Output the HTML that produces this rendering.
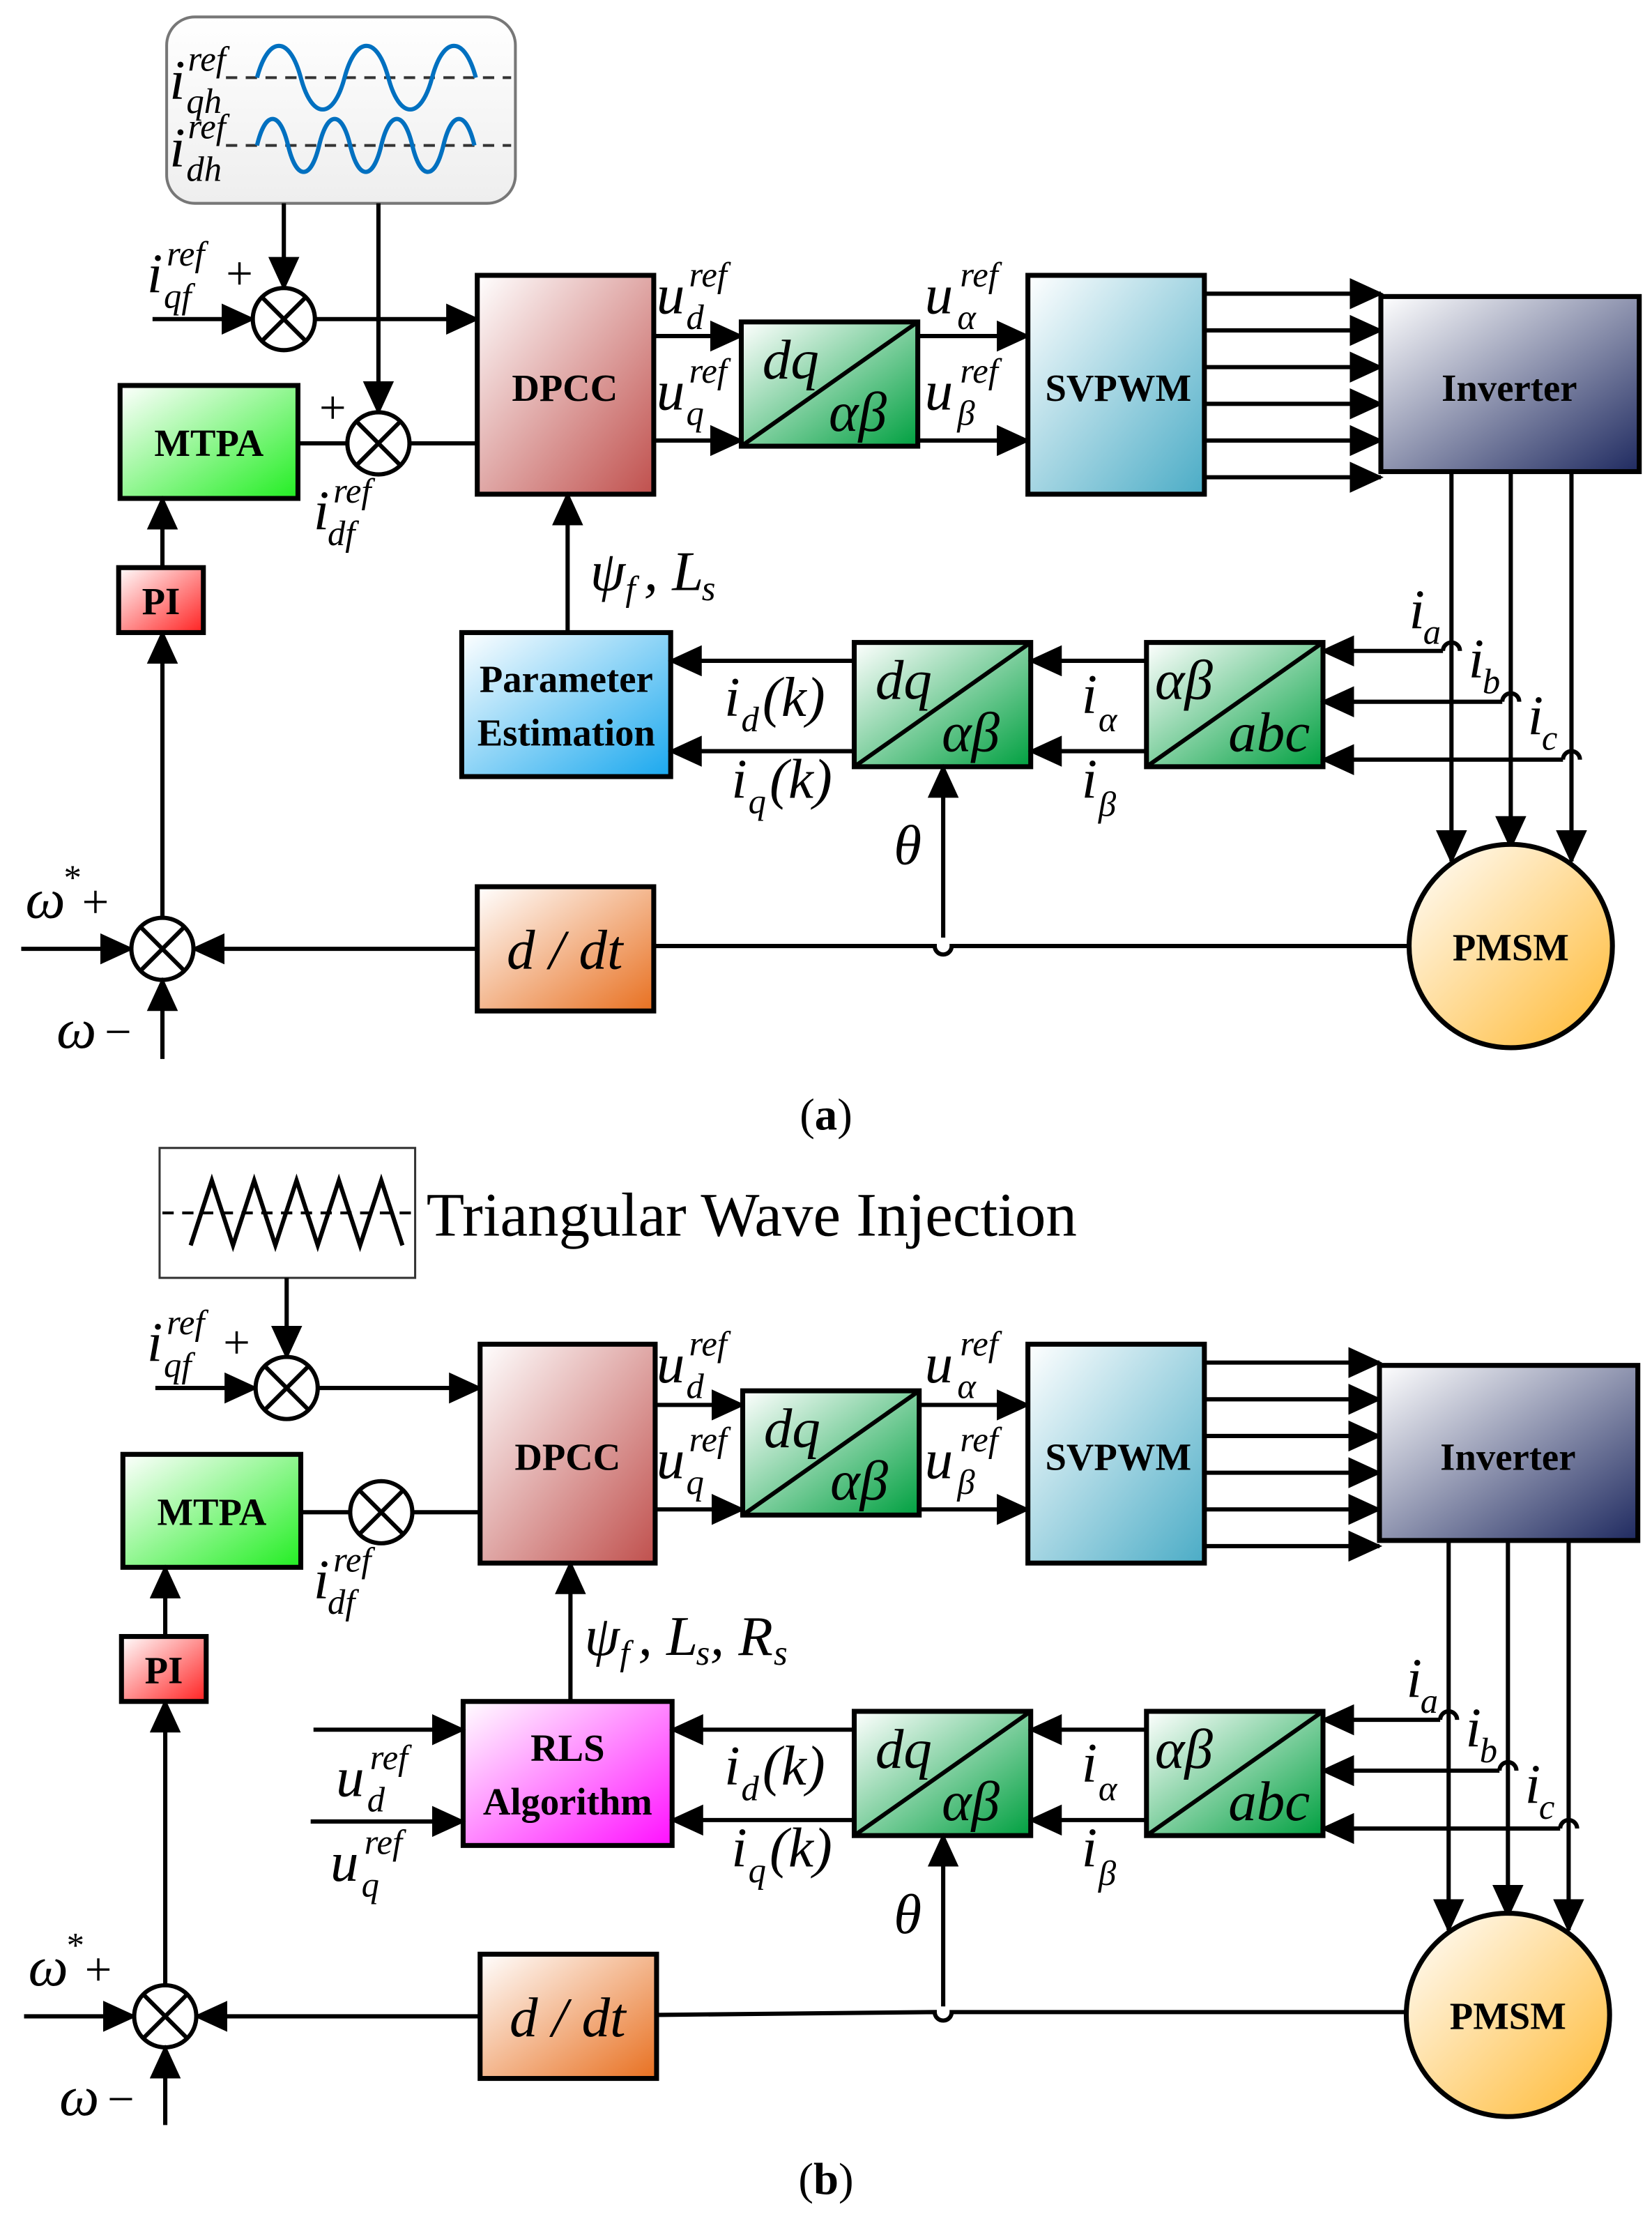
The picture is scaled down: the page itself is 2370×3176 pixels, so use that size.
<!DOCTYPE html>
<html><head><meta charset="utf-8">
<style>
html,body{margin:0;padding:0;background:#fff;}
svg{display:block;}
text{font-family:"Liberation Serif",serif;fill:#000;}
.m{font-style:italic;font-size:40px;}
.s{font-style:italic;font-size:25px;}
.b{font-weight:bold;font-size:27px;}
.box{stroke:#000;stroke-width:3.5;}
.ln{stroke:#000;stroke-width:3;fill:none;}
</style></head><body>
<svg width="2370" height="3176" viewBox="0 0 1170 1568" xmlns="http://www.w3.org/2000/svg">
<defs>
<marker id="ar" markerUnits="userSpaceOnUse" markerWidth="24" markerHeight="22" refX="22" refY="11" orient="auto"><path d="M0,0 L24,11 L0,22 Z" fill="#000"/></marker>
<linearGradient id="gR" x1="0" y1="0" x2="1" y2="1"><stop offset="0" stop-color="#fff"/><stop offset="1" stop-color="#c0504d"/></linearGradient>
<linearGradient id="gG" x1="0" y1="0" x2="1" y2="1"><stop offset="0" stop-color="#fff"/><stop offset="1" stop-color="#22ee22"/></linearGradient>
<linearGradient id="gD" x1="0" y1="0" x2="1" y2="1"><stop offset="0" stop-color="#fff"/><stop offset="1" stop-color="#00a040"/></linearGradient>
<linearGradient id="gB" x1="0" y1="0" x2="1" y2="1"><stop offset="0" stop-color="#fff"/><stop offset="1" stop-color="#4bacc6"/></linearGradient>
<linearGradient id="gB2" x1="0" y1="0" x2="1" y2="1"><stop offset="0" stop-color="#fff"/><stop offset="1" stop-color="#1aa8ee"/></linearGradient>
<linearGradient id="gN" x1="0" y1="0" x2="1" y2="1"><stop offset="0" stop-color="#fff"/><stop offset="1" stop-color="#1f2a60"/></linearGradient>
<linearGradient id="gP" x1="0" y1="0" x2="1" y2="1"><stop offset="0" stop-color="#fff"/><stop offset="1" stop-color="#ff2020"/></linearGradient>
<linearGradient id="gO" x1="0" y1="0" x2="1" y2="1"><stop offset="0" stop-color="#fff"/><stop offset="1" stop-color="#e87020"/></linearGradient>
<linearGradient id="gY" x1="0" y1="0" x2="1" y2="1"><stop offset="0" stop-color="#fff"/><stop offset="1" stop-color="#ffb830"/></linearGradient>
<linearGradient id="gM" x1="0" y1="0" x2="1" y2="1"><stop offset="0" stop-color="#fff"/><stop offset="1" stop-color="#ff10ff"/></linearGradient>
<linearGradient id="gW" x1="0" y1="0" x2="0" y2="1"><stop offset="0" stop-color="#fff"/><stop offset="1" stop-color="#eee"/></linearGradient>
</defs>

<!-- ============ PANEL (a) ============ -->
<rect x="118" y="12" width="247" height="132" rx="20" fill="url(#gW)" stroke="#777" stroke-width="2"/>
<line x1="160" y1="55" x2="362" y2="55" stroke="#333" stroke-width="2" stroke-dasharray="8,6"/>
<line x1="160" y1="103" x2="362" y2="103" stroke="#333" stroke-width="2" stroke-dasharray="8,6"/>
<path d="M182,55 C190,25 205,25 213,55 S236,85 244,55 S267,25 275,55 S298,85 306,55 S329,25 337,55" stroke="#0070c0" stroke-width="3" fill="none"/>
<path d="M182,103 C188,78 198,78 204,103 S220,128 226,103 S242,78 248,103 S264,128 270,103 S286,78 292,103 S308,128 314,103 S330,78 336,103" stroke="#0070c0" stroke-width="3" fill="none"/>
<text class="m" x="120" y="70">i</text><text class="s" x="133" y="50">ref</text><text class="s" x="132" y="80">qh</text>
<text class="m" x="120" y="118">i</text><text class="s" x="133" y="98">ref</text><text class="s" x="132" y="128">dh</text>

<line class="ln" x1="201" y1="144" x2="201" y2="204" marker-end="url(#ar)"/>
<line class="ln" x1="268" y1="144" x2="268" y2="292" marker-end="url(#ar)"/>
<line class="ln" x1="108" y1="226" x2="179" y2="226" marker-end="url(#ar)"/>
<circle cx="201" cy="226" r="22" fill="#fff" stroke="#000" stroke-width="3"/>
<path d="M185,210 L217,242 M217,210 L185,242" class="ln"/>
<text class="m" x="104" y="207">i</text><text class="s" x="118" y="188">ref</text><text class="s" x="116" y="218">qf</text>
<text x="160" y="205" font-size="34">+</text>
<line class="ln" x1="223" y1="226" x2="338" y2="226" marker-end="url(#ar)"/>

<rect class="box" x="85" y="273" width="126" height="80" fill="url(#gG)"/>
<text class="b" x="148" y="323" text-anchor="middle">MTPA</text>
<line class="ln" x1="211" y1="314" x2="246" y2="314"/>
<circle cx="268" cy="314" r="22" fill="#fff" stroke="#000" stroke-width="3"/>
<path d="M252,298 L284,330 M284,298 L252,330" class="ln"/>
<text x="226" y="300" font-size="34">+</text>
<line class="ln" x1="290" y1="314" x2="338" y2="314"/>
<text class="m" x="222" y="375">i</text><text class="s" x="236" y="356">ref</text><text class="s" x="232" y="386">df</text>

<rect class="box" x="338" y="195" width="125" height="155" fill="url(#gR)"/>
<text class="b" x="400" y="284" text-anchor="middle">DPCC</text>
<line class="ln" x1="463" y1="238" x2="525" y2="238" marker-end="url(#ar)"/>
<line class="ln" x1="463" y1="312" x2="525" y2="312" marker-end="url(#ar)"/>
<text class="m" x="465" y="222">u</text><text class="s" x="488" y="203">ref</text><text class="s" x="486" y="233">d</text>
<text class="m" x="465" y="290">u</text><text class="s" x="488" y="271">ref</text><text class="s" x="486" y="301">q</text>

<rect class="box" x="525" y="228" width="125" height="88" fill="url(#gD)"/>
<line class="ln" x1="525" y1="316" x2="650" y2="228"/>
<text class="m" x="540" y="268">dq</text><text class="m" x="587" y="305">αβ</text>
<line class="ln" x1="650" y1="238" x2="728" y2="238" marker-end="url(#ar)"/>
<line class="ln" x1="650" y1="312" x2="728" y2="312" marker-end="url(#ar)"/>
<text class="m" x="655" y="222">u</text><text class="s" x="680" y="203">ref</text><text class="s" x="678" y="233">α</text>
<text class="m" x="655" y="290">u</text><text class="s" x="680" y="271">ref</text><text class="s" x="678" y="301">β</text>

<rect class="box" x="728" y="195" width="125" height="155" fill="url(#gB)"/>
<text class="b" x="792" y="284" text-anchor="middle">SVPWM</text>
<line class="ln" x1="853" y1="208" x2="978" y2="208" marker-end="url(#ar)"/>
<line class="ln" x1="853" y1="234" x2="978" y2="234" marker-end="url(#ar)"/>
<line class="ln" x1="853" y1="260" x2="978" y2="260" marker-end="url(#ar)"/>
<line class="ln" x1="853" y1="286" x2="978" y2="286" marker-end="url(#ar)"/>
<line class="ln" x1="853" y1="312" x2="978" y2="312" marker-end="url(#ar)"/>
<line class="ln" x1="853" y1="338" x2="978" y2="338" marker-end="url(#ar)"/>
<rect class="box" x="978" y="210" width="183" height="124" fill="url(#gN)"/>
<text class="b" x="1069" y="284" text-anchor="middle">Inverter</text>

<line class="ln" x1="1028" y1="334" x2="1028" y2="610" marker-end="url(#ar)"/>
<line class="ln" x1="1070" y1="334" x2="1070" y2="600" marker-end="url(#ar)"/>
<line class="ln" x1="1113" y1="334" x2="1113" y2="610" marker-end="url(#ar)"/>
<ellipse cx="1070" cy="670" rx="72" ry="72" fill="url(#gY)" stroke="#000" stroke-width="3.5"/>
<text class="b" x="1070" y="680" text-anchor="middle">PMSM</text>

<rect class="box" x="812" y="455" width="125" height="88" fill="url(#gD)"/>
<line class="ln" x1="812" y1="543" x2="937" y2="455"/>
<text class="m" x="818" y="495">αβ</text><text class="m" x="870" y="532">abc</text>
<path class="ln" d="M1022,461 a6,6 0 0 1 12,0" />
<line class="ln" x1="1022" y1="461" x2="937" y2="461" marker-end="url(#ar)"/>
<path class="ln" d="M1064,497 a6,6 0 0 1 12,0"/>
<line class="ln" x1="1064" y1="497" x2="937" y2="497" marker-end="url(#ar)"/>
<path class="ln" d="M1107,538 a6,6 0 0 1 12,0"/>
<line class="ln" x1="1107" y1="538" x2="937" y2="538" marker-end="url(#ar)"/>
<text class="m" x="998" y="445">i</text><text class="s" x="1008" y="456">a</text>
<text class="m" x="1040" y="480">i</text><text class="s" x="1050" y="491">b</text>
<text class="m" x="1082" y="520">i</text><text class="s" x="1092" y="531">c</text>

<rect class="box" x="605" y="455" width="125" height="88" fill="url(#gD)"/>
<line class="ln" x1="605" y1="543" x2="730" y2="455"/>
<text class="m" x="620" y="495">dq</text><text class="m" x="667" y="532">αβ</text>
<line class="ln" x1="812" y1="468" x2="730" y2="468" marker-end="url(#ar)"/>
<line class="ln" x1="812" y1="532" x2="730" y2="532" marker-end="url(#ar)"/>
<text class="m" x="766" y="505">i</text><text class="s" x="778" y="518">α</text>
<text class="m" x="766" y="565">i</text><text class="s" x="778" y="578">β</text>

<rect class="box" x="327" y="448" width="148" height="102" fill="url(#gB2)"/>
<text class="b" x="401" y="490" text-anchor="middle">Parameter</text>
<text class="b" x="401" y="528" text-anchor="middle">Estimation</text>
<line class="ln" x1="605" y1="468" x2="475" y2="468" marker-end="url(#ar)"/>
<line class="ln" x1="605" y1="532" x2="475" y2="532" marker-end="url(#ar)"/>
<text class="m" x="513" y="507">i</text><text class="s" x="525" y="518">d</text><text class="m" x="540" y="507">(k)</text>
<text class="m" x="518" y="565">i</text><text class="s" x="530" y="576">q</text><text class="m" x="545" y="565">(k)</text>
<line class="ln" x1="402" y1="448" x2="402" y2="350" marker-end="url(#ar)"/>
<text class="m" x="418" y="418">ψ</text><text class="s" x="443" y="425">f</text><text class="m" x="456" y="418">, L</text><text class="s" x="497" y="425">s</text>

<line class="ln" x1="668" y1="664" x2="668" y2="543" marker-end="url(#ar)"/>
<text class="m" x="633" y="612">θ</text>
<path class="ln" d="M998,670 L674,670 a6,6 0 0 1 -12,0 L463,670"/>
<rect class="box" x="338" y="628" width="125" height="88" fill="url(#gO)"/>
<text class="m" x="400" y="686" text-anchor="middle">d / dt</text>
<line class="ln" x1="338" y1="672" x2="137" y2="672" marker-end="url(#ar)"/>
<line class="ln" x1="15" y1="672" x2="93" y2="672" marker-end="url(#ar)"/>
<circle cx="115" cy="672" r="22" fill="#fff" stroke="#000" stroke-width="3"/>
<path d="M99,656 L131,688 M131,656 L99,688" class="ln"/>
<line class="ln" x1="115" y1="750" x2="115" y2="694" marker-end="url(#ar)"/>
<text class="m" x="18" y="650">ω</text><text class="s" x="44" y="630">*</text><text x="58" y="650" font-size="34">+</text>
<text class="m" x="40" y="742">ω</text><text x="74" y="742" font-size="34">−</text>
<line class="ln" x1="115" y1="650" x2="115" y2="448" marker-end="url(#ar)"/>
<rect class="box" x="84" y="402" width="60" height="46" fill="url(#gP)"/>
<text class="b" x="114" y="435" text-anchor="middle">PI</text>
<line class="ln" x1="115" y1="402" x2="115" y2="353" marker-end="url(#ar)"/>
<text x="585" y="800" font-size="32" text-anchor="middle">(<tspan font-weight="bold">a</tspan>)</text>

<!-- ============ PANEL (b) ============ -->
<rect x="113" y="813" width="181" height="92" fill="#fff" stroke="#333" stroke-width="1.5"/>
<line x1="115" y1="859" x2="292" y2="859" stroke="#000" stroke-width="2" stroke-dasharray="8,6"/>
<path d="M135,882 L150,836 L165,882 L180,836 L195,882 L210,836 L225,882 L240,836 L255,882 L270,836 L285,882" stroke="#000" stroke-width="3" fill="none"/>
<text x="302" y="875" font-size="44">Triangular Wave Injection</text>

<line class="ln" x1="203" y1="905" x2="203" y2="961" marker-end="url(#ar)"/>
<line class="ln" x1="110" y1="983" x2="181" y2="983" marker-end="url(#ar)"/>
<circle cx="203" cy="983" r="22" fill="#fff" stroke="#000" stroke-width="3"/>
<path d="M187,967 L219,999 M219,967 L187,999" class="ln"/>
<text class="m" x="104" y="964">i</text><text class="s" x="118" y="945">ref</text><text class="s" x="116" y="975">qf</text>
<text x="158" y="962" font-size="34">+</text>
<line class="ln" x1="225" y1="983" x2="340" y2="983" marker-end="url(#ar)"/>

<rect class="box" x="87" y="1030" width="126" height="80" fill="url(#gG)"/>
<text class="b" x="150" y="1080" text-anchor="middle">MTPA</text>
<line class="ln" x1="213" y1="1071" x2="248" y2="1071"/>
<circle cx="270" cy="1071" r="22" fill="#fff" stroke="#000" stroke-width="3"/>
<path d="M254,1055 L286,1087 M286,1055 L254,1087" class="ln"/>
<line class="ln" x1="292" y1="1071" x2="340" y2="1071"/>
<text class="m" x="222" y="1132">i</text><text class="s" x="236" y="1113">ref</text><text class="s" x="232" y="1143">df</text>

<rect class="box" x="340" y="952" width="124" height="155" fill="url(#gR)"/>
<text class="b" x="402" y="1041" text-anchor="middle">DPCC</text>
<line class="ln" x1="464" y1="995" x2="526" y2="995" marker-end="url(#ar)"/>
<line class="ln" x1="464" y1="1069" x2="526" y2="1069" marker-end="url(#ar)"/>
<text class="m" x="465" y="979">u</text><text class="s" x="488" y="960">ref</text><text class="s" x="486" y="990">d</text>
<text class="m" x="465" y="1047">u</text><text class="s" x="488" y="1028">ref</text><text class="s" x="486" y="1058">q</text>

<rect class="box" x="526" y="985" width="125" height="88" fill="url(#gD)"/>
<line class="ln" x1="526" y1="1073" x2="651" y2="985"/>
<text class="m" x="541" y="1025">dq</text><text class="m" x="588" y="1062">αβ</text>
<line class="ln" x1="651" y1="995" x2="728" y2="995" marker-end="url(#ar)"/>
<line class="ln" x1="651" y1="1069" x2="728" y2="1069" marker-end="url(#ar)"/>
<text class="m" x="655" y="979">u</text><text class="s" x="680" y="960">ref</text><text class="s" x="678" y="990">α</text>
<text class="m" x="655" y="1047">u</text><text class="s" x="680" y="1028">ref</text><text class="s" x="678" y="1058">β</text>

<rect class="box" x="728" y="952" width="125" height="155" fill="url(#gB)"/>
<text class="b" x="792" y="1041" text-anchor="middle">SVPWM</text>
<line class="ln" x1="853" y1="965" x2="977" y2="965" marker-end="url(#ar)"/>
<line class="ln" x1="853" y1="991" x2="977" y2="991" marker-end="url(#ar)"/>
<line class="ln" x1="853" y1="1017" x2="977" y2="1017" marker-end="url(#ar)"/>
<line class="ln" x1="853" y1="1043" x2="977" y2="1043" marker-end="url(#ar)"/>
<line class="ln" x1="853" y1="1069" x2="977" y2="1069" marker-end="url(#ar)"/>
<line class="ln" x1="853" y1="1095" x2="977" y2="1095" marker-end="url(#ar)"/>
<rect class="box" x="977" y="967" width="183" height="124" fill="url(#gN)"/>
<text class="b" x="1068" y="1041" text-anchor="middle">Inverter</text>

<line class="ln" x1="1026" y1="1091" x2="1026" y2="1367" marker-end="url(#ar)"/>
<line class="ln" x1="1068" y1="1091" x2="1068" y2="1357" marker-end="url(#ar)"/>
<line class="ln" x1="1111" y1="1091" x2="1111" y2="1367" marker-end="url(#ar)"/>
<ellipse cx="1068" cy="1427" rx="72" ry="72" fill="url(#gY)" stroke="#000" stroke-width="3.5"/>
<text class="b" x="1068" y="1437" text-anchor="middle">PMSM</text>

<rect class="box" x="812" y="1212" width="125" height="88" fill="url(#gD)"/>
<line class="ln" x1="812" y1="1300" x2="937" y2="1212"/>
<text class="m" x="818" y="1252">αβ</text><text class="m" x="870" y="1289">abc</text>
<path class="ln" d="M1020,1218 a6,6 0 0 1 12,0"/>
<line class="ln" x1="1020" y1="1218" x2="937" y2="1218" marker-end="url(#ar)"/>
<path class="ln" d="M1062,1254 a6,6 0 0 1 12,0"/>
<line class="ln" x1="1062" y1="1254" x2="937" y2="1254" marker-end="url(#ar)"/>
<path class="ln" d="M1105,1295 a6,6 0 0 1 12,0"/>
<line class="ln" x1="1105" y1="1295" x2="937" y2="1295" marker-end="url(#ar)"/>
<text class="m" x="996" y="1202">i</text><text class="s" x="1006" y="1213">a</text>
<text class="m" x="1038" y="1237">i</text><text class="s" x="1048" y="1248">b</text>
<text class="m" x="1080" y="1277">i</text><text class="s" x="1090" y="1288">c</text>

<rect class="box" x="605" y="1212" width="125" height="88" fill="url(#gD)"/>
<line class="ln" x1="605" y1="1300" x2="730" y2="1212"/>
<text class="m" x="620" y="1252">dq</text><text class="m" x="667" y="1289">αβ</text>
<line class="ln" x1="812" y1="1225" x2="730" y2="1225" marker-end="url(#ar)"/>
<line class="ln" x1="812" y1="1289" x2="730" y2="1289" marker-end="url(#ar)"/>
<text class="m" x="766" y="1262">i</text><text class="s" x="778" y="1275">α</text>
<text class="m" x="766" y="1322">i</text><text class="s" x="778" y="1335">β</text>

<rect class="box" x="328" y="1205" width="148" height="102" fill="url(#gM)"/>
<text class="b" x="402" y="1247" text-anchor="middle">RLS</text>
<text class="b" x="402" y="1285" text-anchor="middle">Algorithm</text>
<line class="ln" x1="605" y1="1225" x2="476" y2="1225" marker-end="url(#ar)"/>
<line class="ln" x1="605" y1="1289" x2="476" y2="1289" marker-end="url(#ar)"/>
<text class="m" x="513" y="1264">i</text><text class="s" x="525" y="1275">d</text><text class="m" x="540" y="1264">(k)</text>
<text class="m" x="518" y="1322">i</text><text class="s" x="530" y="1333">q</text><text class="m" x="545" y="1322">(k)</text>
<line class="ln" x1="222" y1="1225" x2="328" y2="1225" marker-end="url(#ar)"/>
<line class="ln" x1="220" y1="1290" x2="328" y2="1290" marker-end="url(#ar)"/>
<text class="m" x="238" y="1272">u</text><text class="s" x="262" y="1253">ref</text><text class="s" x="260" y="1283">d</text>
<text class="m" x="234" y="1332">u</text><text class="s" x="258" y="1313">ref</text><text class="s" x="256" y="1343">q</text>
<line class="ln" x1="404" y1="1205" x2="404" y2="1107" marker-end="url(#ar)"/>
<text class="m" x="414" y="1172">ψ</text><text class="s" x="439" y="1179">f</text><text class="m" x="452" y="1172">, L</text><text class="s" x="493" y="1179">s</text><text class="m" x="503" y="1172">, R</text><text class="s" x="548" y="1179">s</text>

<line class="ln" x1="668" y1="1421" x2="668" y2="1300" marker-end="url(#ar)"/>
<text class="m" x="633" y="1369">θ</text>
<path class="ln" d="M996,1425 L674,1425 a6,6 0 0 1 -12,0 L465,1427"/>
<rect class="box" x="340" y="1384" width="125" height="88" fill="url(#gO)"/>
<text class="m" x="402" y="1442" text-anchor="middle">d / dt</text>
<line class="ln" x1="340" y1="1428" x2="139" y2="1428" marker-end="url(#ar)"/>
<line class="ln" x1="17" y1="1428" x2="95" y2="1428" marker-end="url(#ar)"/>
<circle cx="117" cy="1428" r="22" fill="#fff" stroke="#000" stroke-width="3"/>
<path d="M101,1412 L133,1444 M133,1412 L101,1444" class="ln"/>
<line class="ln" x1="117" y1="1505" x2="117" y2="1450" marker-end="url(#ar)"/>
<text class="m" x="20" y="1406">ω</text><text class="s" x="46" y="1386">*</text><text x="60" y="1406" font-size="34">+</text>
<text class="m" x="42" y="1498">ω</text><text x="76" y="1498" font-size="34">−</text>
<line class="ln" x1="117" y1="1406" x2="117" y2="1205" marker-end="url(#ar)"/>
<rect class="box" x="86" y="1159" width="60" height="46" fill="url(#gP)"/>
<text class="b" x="116" y="1192" text-anchor="middle">PI</text>
<line class="ln" x1="117" y1="1159" x2="117" y2="1110" marker-end="url(#ar)"/>
<text x="585" y="1554" font-size="32" text-anchor="middle">(<tspan font-weight="bold">b</tspan>)</text>
</svg>
</body></html>
